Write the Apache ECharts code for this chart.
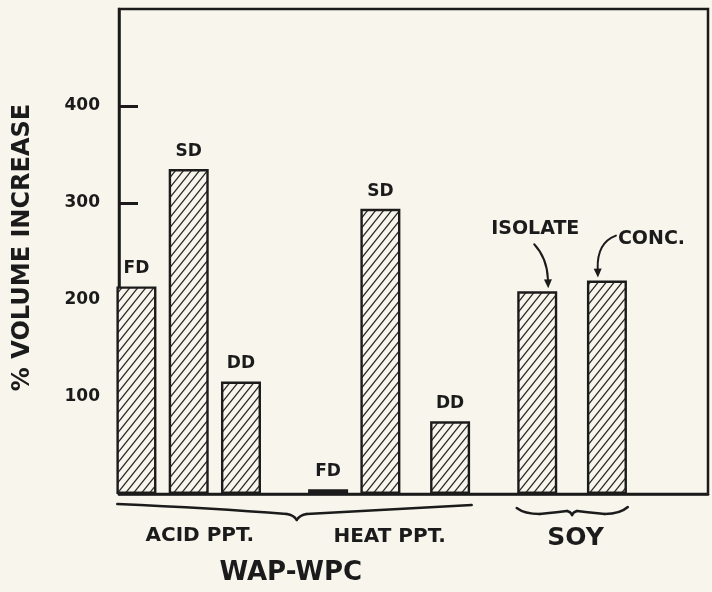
<!DOCTYPE html>
<html>
<head>
<meta charset="utf-8">
<title>% Volume increase</title>
<script src="https://cdn.jsdelivr.net/npm/echarts@6/dist/echarts.min.js"></script>
<style>
  html, body { margin: 0; padding: 0; background: #f8f6ec; }
  #chart { width: 712px; height: 592px; }
</style>
</head>
<body>
<div id="chart"></div>
<script>
// values
const barLabels = ['FD', 'SD', 'DD', 'FD', 'SD', 'DD', '', ''];
const barSlots = [1, 4, 7, 12, 15, 19, 24, 28];
const volumeIncrease = [214, 335, 116, 5, 294, 75, 209, 220];
const yTicks = [100, 200, 300, 400];
const groupNames = ['ACID PPT.', 'HEAT PPT.', 'SOY'];
const soyNames = ['ISOLATE', 'CONC.'];
const familyName = 'WAP-WPC';

const ink = '#1b1b1b';
const paper = '#f8f6ec';
const font = 'DejaVu Sans';

// diagonal hatch used to fill every bar
function hatch() {
  const c = document.createElement('canvas');
  c.width = 8;
  c.height = 10;
  const ctx = c.getContext('2d');
  ctx.fillStyle = paper;
  ctx.fillRect(0, 0, 8, 10);
  ctx.strokeStyle = '#2a2a2a';
  ctx.lineWidth = 1.3;
  ctx.beginPath();
  ctx.moveTo(-1, 11.25);
  ctx.lineTo(9, -1.25);
  ctx.moveTo(-9, 11.25);
  ctx.lineTo(1, -1.25);
  ctx.moveTo(7, 11.25);
  ctx.lineTo(17, -1.25);
  ctx.stroke();
  return c;
}

const chart = echarts.init(document.getElementById('chart'));

chart.setOption({
  backgroundColor: paper,
  animation: false,
  grid: {
    left: 119, right: 4, top: 9, bottom: 98,
    outerBoundsMode: 'none',
    show: true, borderColor: ink, borderWidth: 2.5, backgroundColor: 'transparent'
  },
  xAxis: {
    type: 'value', min: 0, max: 33.8,
    axisLine: { show: true, onZero: false, lineStyle: { color: ink, width: 2.5 } },
    axisTick: { show: false },
    axisLabel: { show: false },
    splitLine: { show: false }
  },
  yAxis: {
    type: 'value', min: 0, max: 500, interval: 100,
    name: '% VOLUME INCREASE',
    nameLocation: 'middle',
    nameRotate: 90,
    nameGap: 84,
    nameTextStyle: { color: ink, fontFamily: font, fontWeight: 'bold', fontSize: 24, padding: [0, 0, 0, 8] },
    axisLine: { show: true, lineStyle: { color: ink, width: 2.5 } },
    axisTick: { show: true, inside: true, length: 19, customValues: yTicks, lineStyle: { color: ink, width: 3 } },
    axisLabel: {
      margin: 19, color: ink, fontFamily: font, fontWeight: 'bold', fontSize: 17,
      customValues: yTicks
    },
    splitLine: { show: false }
  },
  series: [{
    type: 'bar',
    barWidth: 40,
    data: barSlots.map((s, i) => [s, volumeIncrease[i]]),
    itemStyle: { color: { image: hatch(), repeat: 'repeat' }, borderColor: ink, borderWidth: 2.4 },
    label: {
      show: true, position: 'top', distance: 9,
      color: ink, fontFamily: font, fontWeight: 'bold', fontSize: 17,
      formatter: p => barLabels[p.dataIndex]
    }
  }]
});

// braces, group names and the two soy call-outs are placed from the axes
const px = s => chart.convertToPixel({ xAxisIndex: 0 }, s);
const base = chart.convertToPixel({ yAxisIndex: 0 }, 0);
const barTop = i => chart.convertToPixel({ gridIndex: 0 }, [barSlots[i], volumeIncrease[i]]);

function text(x, y, str, size, align) {
  return {
    type: 'text', x: x, y: y,
    style: {
      text: str, fill: ink, font: 'bold ' + size + 'px "' + font + '"',
      align: align || 'center', verticalAlign: 'middle'
    }
  };
}

// quadratic pieces chained into one stroke
function curve(points, width) {
  const out = [];
  for (let i = 0; i + 2 < points.length; i += 2) {
    out.push({
      type: 'bezierCurve',
      shape: {
        x1: points[i][0], y1: points[i][1],
        cpx1: points[i + 1][0], cpy1: points[i + 1][1],
        x2: points[i + 2][0], y2: points[i + 2][1]
      },
      style: { stroke: ink, lineWidth: width, fill: null, lineCap: 'round' }
    });
  }
  return out;
}

function arrow(p0, c, p1) {
  const ang = Math.atan2(p1[1] - c[1], p1[0] - c[0]);
  const len = 9, w = 4;
  const bx = p1[0] - len * Math.cos(ang), by = p1[1] - len * Math.sin(ang);
  return [
    ...curve([p0, c, [bx, by]], 2),
    {
      type: 'polygon',
      shape: { points: [p1, [bx - w * Math.sin(ang), by + w * Math.cos(ang)], [bx + w * Math.sin(ang), by - w * Math.cos(ang)]] },
      style: { fill: ink }
    }
  ];
}

const bl = px(-0.1), br = px(20.24), bt = px(10.2);
const sl = px(22.82), sr = px(29.2), st = px(26.0);
const braceWap = [
  [bl, base + 10], [bl + 95, base + 14], [bt - 10, base + 20],
  [bt - 3, base + 21], [bt, base + 26],
  [bt + 3, base + 21], [bt + 10, base + 20],
  [br - 90, base + 16], [br, base + 11]
];
const braceSoy = [
  [sl, base + 14], [sl + 8, base + 20], [sl + 23, base + 20],
  [st - 12, base + 18], [st - 5, base + 17],
  [st - 1, base + 18], [st, base + 21],
  [st + 1, base + 18], [st + 5, base + 17],
  [st + 12, base + 18], [sr - 23, base + 20],
  [sr - 8, base + 20], [sr, base + 13]
];

const iso = barTop(6), conc = barTop(7);

chart.setOption({
  graphic: [
    ...curve(braceWap, 2.4),
    ...curve(braceSoy, 2.4),
    text(px(4.64), base + 42, groupNames[0], 20),
    text(px(15.53), base + 43, groupNames[1], 20),
    text(px(26.2), base + 44, groupNames[2], 25),
    text(px(9.86), base + 79, familyName, 26),
    text(iso[0] - 2, iso[1] - 62, soyNames[0], 19),
    text(conc[0] + 11, conc[1] - 42, soyNames[1], 19, 'left'),
    ...arrow([iso[0] - 3, iso[1] - 47], [iso[0] + 10, iso[1] - 33], [iso[0] + 11, iso[1] - 3]),
    ...arrow([conc[0] + 9, conc[1] - 45], [conc[0] - 10, conc[1] - 38], [conc[0] - 9, conc[1] - 3])
  ]
});

window.addEventListener('resize', () => {
  chart.resize();
});
</script>
</body>
</html>
